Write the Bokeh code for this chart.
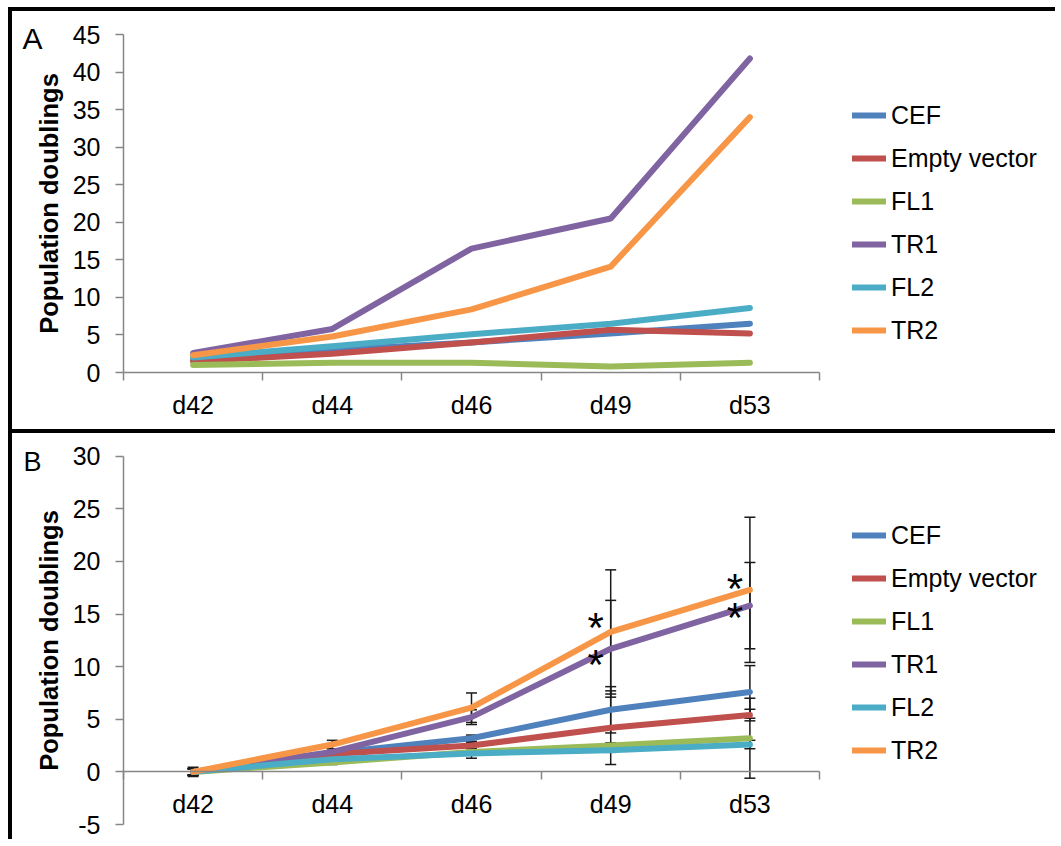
from bokeh.plotting import figure
from bokeh.models import (Range1d, FixedTicker, Legend, LegendItem, Whisker,
                          TeeHead, ColumnDataSource, Label)
from bokeh.layouts import column
from bokeh.embed import file_html
from bokeh.resources import INLINE
from bokeh.core.properties import value

# ---------------- data ----------------
days = ["d42", "d44", "d46", "d49", "d53"]
series = ["CEF", "Empty vector", "FL1", "TR1", "FL2", "TR2"]
colors = ["#4F81BD", "#C0504D", "#9BBB59", "#8064A2", "#4BACC6", "#F79646"]

# Panel A
a_cef = [1.7, 3.0, 4.0, 5.2, 6.5]
a_empty = [1.5, 2.5, 4.0, 5.7, 5.2]
a_fl1 = [1.0, 1.3, 1.3, 0.8, 1.3]
a_tr1 = [2.6, 5.8, 16.5, 20.5, 41.8]
a_fl2 = [2.0, 3.5, 5.1, 6.5, 8.6]
a_tr2 = [2.3, 4.8, 8.4, 14.1, 34.0]

# Panel B (means)
b_cef = [0.0, 1.8, 3.2, 5.9, 7.6]
b_empty = [0.0, 1.7, 2.5, 4.2, 5.4]
b_fl1 = [0.0, 0.9, 1.9, 2.5, 3.2]
b_tr1 = [0.0, 1.9, 5.2, 11.7, 15.8]
b_fl2 = [0.0, 1.2, 1.75, 2.06, 2.6]
b_tr2 = [0.0, 2.6, 6.1, 13.3, 17.3]

# Panel B (error bars, +/-)
b_cef_err = [0.3, 0.2, 0.3, 2.2, 2.5]
b_empty_err = [0.3, 0.2, 0.3, 3.5, 0.55]
b_fl1_err = [0.3, 0.2, 0.6, 0.25, 3.8]
b_tr1_err = [0.3, 0.3, 0.7, 4.6, 4.1]
b_fl2_err = [0.3, 0.2, 0.15, 0.2, 0.4]
b_tr2_err = [0.45, 0.4, 1.4, 5.9, 6.9]

# significance markers (panel B)
star_days = ["d49", "d49", "d53", "d53"]
star_values = [14.35, 10.9, 18.1, 15.35]

a_ticks = list(range(0, 46, 5))
b_ticks = list(range(-5, 31, 5))

# ---------------- styling / layout ----------------
FONT = "Liberation Sans"
AXIS_GRAY = "#868686"
BORDER = {"border-top": "4px solid black", "border-left": "4px solid black"}
CANVAS_W = 1047
xpos = [i + 0.5 for i in range(len(days))]
n = len(days)


def ranges(canvas_h, y_lo, y_hi, frame_left, frame_right, frame_top, frame_bottom):
    """Map the plot area (pixels inside the canvas) onto the data ranges so the
    whole canvas is the frame and the axes are pinned inside it."""
    xs = (frame_right - frame_left) / n
    ys = (frame_bottom - frame_top) / (y_hi - y_lo)
    xr = Range1d(-frame_left / xs, n + (CANVAS_W - frame_right) / xs)
    yr = Range1d(y_lo - (canvas_h - frame_bottom) / ys, y_hi + frame_top / ys)
    return xr, yr


def base_fig(height, y_lo, y_hi, yticks, frame_top, frame_bottom):
    xr, yr = ranges(height, y_lo, y_hi, 111, 807, frame_top, frame_bottom)
    p = figure(width=CANVAS_W, height=height, output_backend="svg",
               toolbar_location=None, x_range=xr, y_range=yr,
               min_border=0, min_border_left=0, min_border_right=0,
               min_border_top=0, min_border_bottom=0, styles=BORDER)
    p.title.visible = False
    p.outline_line_color = None
    p.xgrid.visible = False
    p.ygrid.visible = False
    p.background_fill_color = "white"
    p.border_fill_color = "white"

    ya = p.yaxis[0]
    ya.fixed_location = 0
    ya.bounds = (y_lo, y_hi)
    ya.ticker = FixedTicker(ticks=yticks)
    ya.major_label_overrides = {t: str(t) for t in yticks}
    ya.axis_line_color = AXIS_GRAY
    ya.axis_line_width = 1.5
    ya.major_tick_line_color = AXIS_GRAY
    ya.major_tick_line_width = 1.5
    ya.major_tick_out = 8
    ya.major_tick_in = 0
    ya.minor_tick_line_color = None
    ya.major_label_text_font = FONT
    ya.major_label_text_font_size = "25px"
    ya.major_label_text_color = "black"
    ya.major_label_standoff = 15
    ya.axis_label = "Population doublings"
    ya.axis_label_text_font = FONT
    ya.axis_label_text_font_size = "25.5px"
    ya.axis_label_text_font_style = "bold"
    ya.axis_label_text_color = "black"
    ya.axis_label_standoff = 7

    xa = p.xaxis[0]
    xa.fixed_location = 0
    xa.bounds = (0, n)
    xa.ticker = FixedTicker(ticks=xpos, minor_ticks=list(range(n + 1)))
    xa.major_label_overrides = {x: d for x, d in zip(xpos, days)}
    xa.axis_line_color = AXIS_GRAY
    xa.axis_line_width = 1.5
    xa.major_tick_line_color = None
    xa.major_tick_out = 0
    xa.major_tick_in = 0
    xa.minor_tick_line_color = AXIS_GRAY
    xa.minor_tick_line_width = 1.5
    xa.minor_tick_out = 8
    xa.minor_tick_in = 0
    xa.major_label_text_font = FONT
    xa.major_label_text_font_size = "25px"
    xa.major_label_text_color = "black"
    xa.major_label_standoff = 10
    return p


def add_lines(p, data, legend_bottom):
    items = []
    for name, vals, col in zip(series, data, colors):
        r = p.line(xpos, vals, line_color=col, line_width=6,
                   line_cap="round", line_join="round")
        items.append(LegendItem(label=name, renderers=[r]))
    leg = Legend(items=items, location=(840, legend_bottom),
                 glyph_width=34, glyph_height=30, label_height=30,
                 label_standoff=5, spacing=13, padding=0, margin=0,
                 border_line_color=None, background_fill_alpha=0,
                 label_text_font=FONT, label_text_font_size="25px",
                 label_text_color="black")
    p.add_layout(leg)


def add_panel_letter(p, letter, x, y, size):
    p.add_layout(Label(x=x, y=y, x_units="screen", y_units="screen",
                       text=letter, text_font=FONT, text_font_size=size,
                       text_color="black", text_align="left",
                       text_baseline="middle"))


# ---------------- panel A ----------------
H_A = 422
pA = base_fig(H_A, 0, 45, a_ticks, 23, 361)
add_lines(pA, [a_cef, a_empty, a_fl1, a_tr1, a_fl2, a_tr2], H_A - 334)
add_panel_letter(pA, "A", 10, H_A - 27, "30px")

# ---------------- panel B ----------------
H_B = 410
pB = base_fig(H_B, -5, 30, b_ticks, 22.7, 391)

b_means = [b_cef, b_empty, b_fl1, b_tr1, b_fl2, b_tr2]
b_errs = [b_cef_err, b_empty_err, b_fl1_err, b_tr1_err, b_fl2_err, b_tr2_err]
for m, e in zip(b_means, b_errs):
    src = ColumnDataSource(dict(x=xpos,
                                upper=[a + b for a, b in zip(m, e)],
                                lower=[a - b for a, b in zip(m, e)]))
    w = Whisker(source=src, base="x", upper="upper", lower="lower",
                dimension="height", line_color="#1a1a1a", line_width=1.5,
                level="underlay",
                upper_head=TeeHead(size=11, line_color="#1a1a1a", line_width=1.5),
                lower_head=TeeHead(size=11, line_color="#1a1a1a", line_width=1.5))
    pB.add_layout(w)

add_lines(pB, b_means, H_B - 332)

star_x = [days.index(d) + 0.5 for d in star_days]
pB.text(star_x, star_values, text=["*"] * len(star_x),
        text_font=value(FONT), text_font_size="42px", text_color="black",
        text_align="center", text_baseline="middle", x_offset=-15, y_offset=7)

add_panel_letter(pB, "B", 11, H_B - 28, "27px")

layout = column(pA, pB, spacing=0, margin=(7, 0, 0, 8))
open("out.html", "w").write(file_html(layout, INLINE))
